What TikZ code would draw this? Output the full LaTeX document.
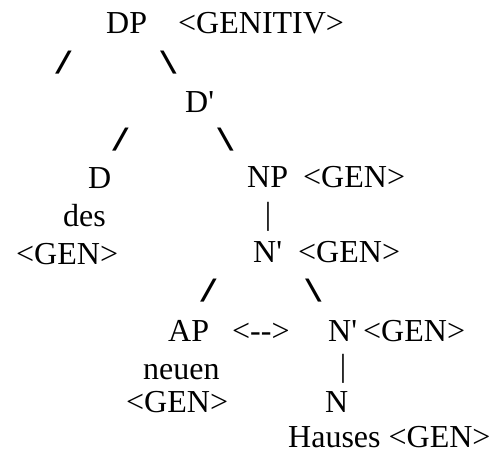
\documentclass[tikz,border=0pt]{standalone}
\usepackage{fontspec}
\setmainfont{Liberation Serif}[Ligatures=TeXOff]
\newfontfamily\branchfont{Liberation Sans}[Ligatures=TeXOff]

\tikzset{
  cat/.style={anchor=base west, inner sep=0pt, font=\fontsize{32}{38}\selectfont},
  branch/.style={anchor=base west, inner sep=0pt, transform shape, font=\branchfont\bfseries\fontsize{31}{38}\selectfont},
  lbranch/.style={branch, xslant=0.37},
  rbranch/.style={branch, xslant=-0.37},
  bar/.style={anchor=base, inner sep=0pt, font=\fontsize{32}{38}\selectfont},
}

\begin{document}
\begin{tikzpicture}[x=1pt, y=-1pt]
      \useasboundingbox (0,0) rectangle (491,457);

      % Root DP
      \node[cat] (dp) at (106,34) {DP};
      \node[cat] (dpgen) at (178,34) {<GENITIV>};
      \node[lbranch] (dpl) at (55,74) {/};
      \node[rbranch] (dpr) at (168,74) {\textbackslash};

      % D'
      \node[cat] (dbar) at (185,113) {D'};
      \node[lbranch] (dbarl) at (112,151) {/};
      \node[rbranch] (dbarr) at (225,151) {\textbackslash};

      % D des
      \node[cat] (d) at (88,189) {D};
      \node[cat] (des) at (63,227) {des};
      \node[cat] (desgen) at (16,265) {<GEN>};

      % NP and N'
      \node[cat] (np) at (247,188) {NP};
      \node[cat] (npgen) at (303,188) {<GEN>};
      \node[bar] (npbar) at (268,225) {|};
      \node[cat] (nbar) at (253,263) {N'};
      \node[cat] (nbargen) at (298,263) {<GEN>};
      \node[lbranch] (nbarl) at (200,302) {/};
      \node[rbranch] (nbarr) at (313,302) {\textbackslash};

      % AP neuen
      \node[cat] (ap) at (168,342) {AP};
      \node[cat] (agr) at (232,342) {<-->};
      \node[cat] (neuen) at (143,380) {neuen};
      \node[cat] (apgen) at (126,413) {<GEN>};

      % lower N' and N Hauses
      \node[cat] (nbarb) at (328,342) {N'};
      \node[cat] (nbarbgen) at (363,342) {<GEN>};
      \node[bar] (nbarbbar) at (343,377) {|};
      \node[cat] (n) at (325,413) {N};
      \node[cat] (hauses) at (288,448) {Hauses <GEN>};

\end{tikzpicture}
\end{document}
